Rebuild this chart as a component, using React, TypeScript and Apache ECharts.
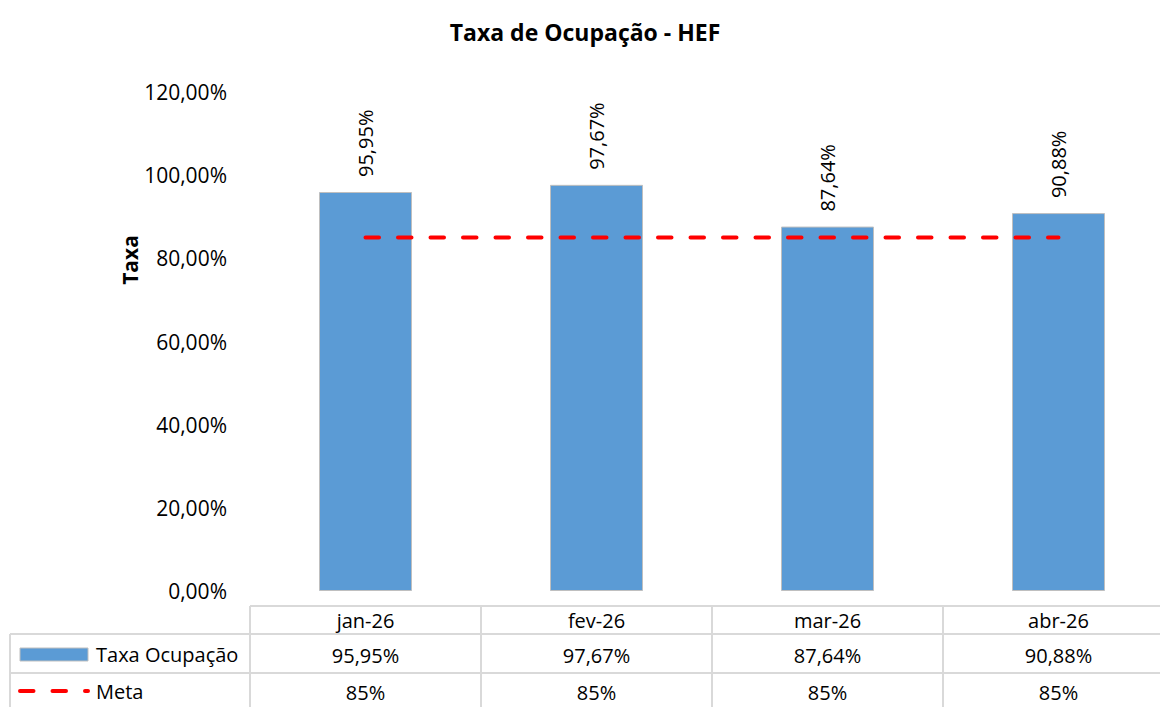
import React, { useEffect, useRef } from "react";
import * as echarts from "echarts";

const title = "Taxa de Ocupação - HEF";
const yAxisName = "Taxa";
const categories = ["jan-26", "fev-26", "mar-26", "abr-26"];
const taxaName = "Taxa Ocupação";
const taxaValues = [95.95, 97.67, 87.64, 90.88];
const metaName = "Meta";
const metaValues = [85, 85, 85, 85];
const yTicks = { min: 0, max: 120, interval: 20 };

const FONT = "'Open Sans', 'Liberation Sans', sans-serif";
const fmt2 = (v: number) => v.toFixed(2).replace(".", ",") + "%";
const fmt0 = (v: number) => String(Math.round(v)) + "%";

export default function App() {
  const ref = useRef<HTMLDivElement>(null);
  useEffect(() => {
    if (!ref.current) return;
    const chart = echarts.init(ref.current, null, { renderer: "svg" });
    const left = 250;
    const catW = 231;
    const lineColor = "#d9d9d9";
    const hLine = (x1: number, x2: number, y: number) => ({
      type: "line",
      shape: { x1, y1: y, x2, y2: y },
      style: { stroke: lineColor, lineWidth: 2 },
      silent: true,
    });
    const vLine = (x: number, y1: number, y2: number) => ({
      type: "line",
      shape: { x1: x, y1, x2: x, y2 },
      style: { stroke: lineColor, lineWidth: 2 },
      silent: true,
    });
    const graphics: any[] = [
      hLine(left, 1174, 606),
      hLine(10, 1174, 634),
      hLine(10, 1174, 673),
      vLine(10, 634, 707),
    ];
    for (let i = 0; i < categories.length; i++) {
      graphics.push(vLine(left + i * catW, 606, 707));
    }
    graphics.push(
      {
        type: "rect",
        shape: { x: 20, y: 648, width: 68, height: 13 },
        style: { fill: "#5b9bd5", stroke: "#bfbfbf", lineWidth: 1 },
      },
      {
        type: "text",
        x: 96,
        y: 654,
        style: { text: taxaName, font: `20px ${FONT}`, fill: "#000", verticalAlign: "middle", align: "left" },
      },
      {
        type: "line",
        shape: { x1: 20, y1: 691, x2: 88, y2: 691 },
        style: { stroke: "#ff0000", lineWidth: 4, lineDash: [13.5, 19], lineCap: "round" },
      },
      {
        type: "text",
        x: 96,
        y: 691,
        style: { text: metaName, font: `20px ${FONT}`, fill: "#000", verticalAlign: "middle", align: "left" },
      },
      {
        type: "text",
        x: 130,
        y: 260,
        rotation: Math.PI / 2,
        style: { text: yAxisName, font: `bold 21px ${FONT}`, fill: "#000", verticalAlign: "middle", align: "center" },
      }
    );

    const tableAxis = (data: string[], margin: number) => ({
      type: "category",
      data,
      position: "bottom",
      gridIndex: 0,
      axisLine: { show: false },
      axisTick: { show: false },
      splitLine: { show: false },
      axisLabel: {
        margin,
        verticalAlign: "middle",
        fontSize: 20,
        fontFamily: FONT,
        color: "#000",
        interval: 0,
      },
    });

    chart.setOption({
      animation: false,
      title: {
        text: title,
        left: 580,
        textAlign: "center",
        top: 15,
        textStyle: { fontSize: 23, fontWeight: "bold", fontFamily: FONT, color: "#000" },
      },
      grid: { left, right: 0, top: 92, bottom: 116, containLabel: false, outerBoundsMode: "none" },
      xAxis: [
        tableAxis(categories, 29),
        tableAxis(taxaValues.map(fmt2), 64),
        tableAxis(metaValues.map(fmt0), 101),
      ],
      yAxis: {
        type: "value",
        min: yTicks.min,
        max: yTicks.max,
        interval: yTicks.interval,
        axisLine: { show: false },
        axisTick: { show: false },
        splitLine: { show: false },
        axisLabel: {
          formatter: (v: number) => fmt2(v),
          fontSize: 21,
          fontFamily: FONT,
          color: "#000",
          margin: 23,
        },
      },
      series: [
        {
          name: taxaName,
          type: "bar",
          xAxisIndex: 0,
          data: taxaValues,
          barWidth: 93,
          itemStyle: { color: "#5b9bd5", borderColor: "#bfbfbf", borderWidth: 1 },
          label: {
            show: true,
            position: "top",
            rotate: 90,
            align: "left",
            verticalAlign: "middle",
            distance: 15,
            formatter: (p: any) => fmt2(p.value),
            fontSize: 20,
            fontFamily: FONT,
            color: "#000",
          },
        },
        {
          name: metaName,
          type: "line",
          xAxisIndex: 0,
          data: metaValues,
          symbol: "none",
          lineStyle: { color: "#ff0000", width: 4, type: [13.5, 19], cap: "round" },
        },
      ],
      graphic: graphics,
    });
    return () => chart.dispose();
  }, []);
  return (
    <div style={{ position: "absolute", left: 0, top: 0, width: 1160, height: 707, overflow: "hidden", background: "#fff" }}>
      <div ref={ref} style={{ width: 1174, height: 707 }} />
    </div>
  );
}
